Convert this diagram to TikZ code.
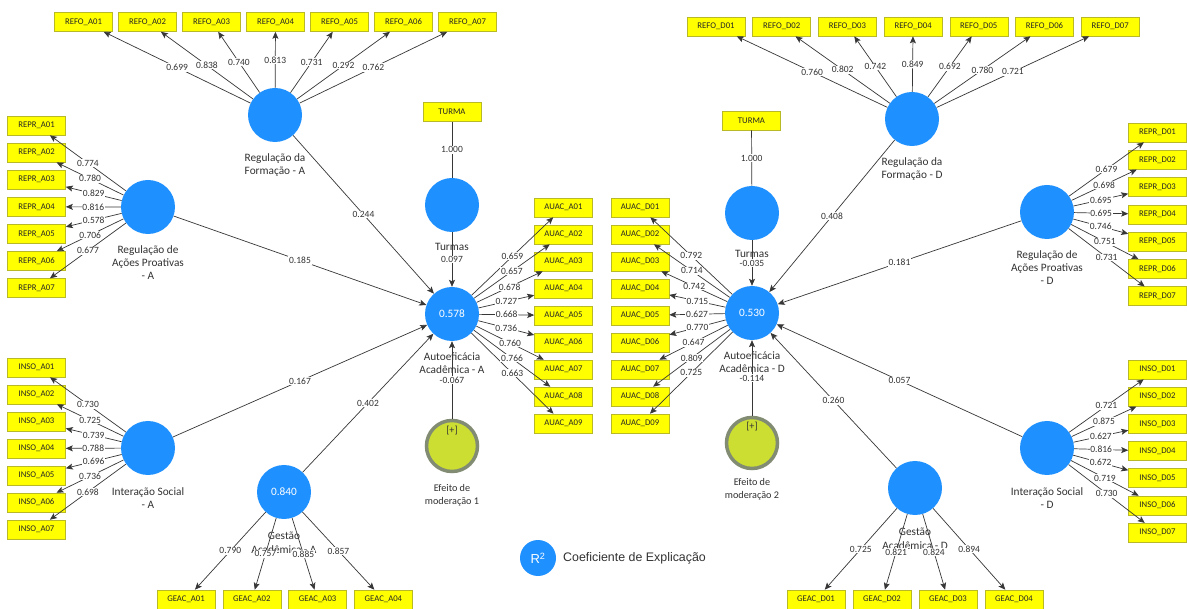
\documentclass[tikz,border=0pt]{standalone}
\usepackage{fontspec}
\setmainfont{Carlito}
\newfontfamily\legendfont{Liberation Sans}
\usetikzlibrary{arrows.meta}

\definecolor{lvblue}{RGB}{30,144,255}
\definecolor{indfill}{RGB}{255,255,0}
\definecolor{indborder}{RGB}{185,185,40}
\definecolor{modfill}{RGB}{205,222,50}
\definecolor{modring}{RGB}{130,140,115}
\definecolor{edgecol}{RGB}{55,55,55}
\definecolor{txtcol}{RGB}{50,50,50}

\begin{document}
\begin{tikzpicture}[x=1pt,y=-1pt,
  ind/.style={draw=indborder, fill=indfill, line width=0.6pt, minimum width=58pt,
    minimum height=19pt, inner sep=0pt, text=black!85, font=\fontsize{8.7}{10}\selectfont},
  lv/.style={circle, fill=lvblue, minimum size=54pt, inner sep=0pt, text=white,
    font=\fontsize{11.3}{13}\selectfont},
  modlv/.style={circle, fill=modfill, draw=modring, line width=3.5pt, minimum size=51pt, inner sep=0pt},
  lbl/.style={align=center, text=txtcol, inner sep=0pt, font=\fontsize{11.3}{13.2}\selectfont},
  modlbl/.style={align=center, text=txtcol, inner sep=0pt, font=\fontsize{10.2}{12.5}\selectfont},
  coef/.style={fill=white, inner sep=0.8pt, text=txtcol, font=\fontsize{9.5}{10}\selectfont},
  edge/.style={draw=edgecol, line width=0.7pt},
  arr/.style={edge, -{Stealth[length=7pt,width=6pt,inset=1.5pt]}},
]
\fill[white] (0,0) rectangle (1187,609);
\useasboundingbox (0,0) rectangle (1187,609);

% ---------- latent variables ----------
\node[lv] (REFOA) at (275,115) {};
\node[lv] (REPRA) at (148,207) {};
\node[lv] (INSOA) at (148,448) {};
\node[lv] (GEACA) at (284,492) {0.840};
\node[lv] (AUTA)  at (452,314) {0.578};
\node[lv] (TURA)  at (452,205) {};
\node[modlv] (MODA) at (452,446) {};
\node[ind] (turmaA) at (452,112) {TURMA};

\node[lv] (REFOD) at (912,119) {};
\node[lv] (REPRD) at (1047,212) {};
\node[lv] (INSOD) at (1047,448) {};
\node[lv] (GEACD) at (915,488) {};
\node[lv] (AUTD)  at (752,313) {0.530};
\node[lv] (TURD)  at (752,213) {};
\node[modlv] (MODD) at (752,443) {};
\node[ind] (turmaD) at (751.5,120.5) {TURMA};

% ---------- indicators ----------
\foreach \i in {1,...,7} {
  \node[ind] (rfa\i) at ({83.5+64*(\i-1)},22) {REFO\_A0\i};
  \node[ind] (rpa\i) at (36.5,{125.5+27.1*(\i-1)}) {REPR\_A0\i};
  \node[ind] (isa\i) at (36.5,{367.5+27*(\i-1)}) {INSO\_A0\i};
  \node[ind] (rfd\i) at ({716+65.7*(\i-1)},26.5) {REFO\_D0\i};
  \node[ind] (rpd\i) at (1157.5,{132.5+27.3*(\i-1)}) {REPR\_D0\i};
  \node[ind] (isd\i) at (1157.5,{369.5+27.2*(\i-1)}) {INSO\_D0\i};
}
\foreach \i in {1,...,9} {
  \node[ind] (aua\i) at (563.5,{207.5+27*(\i-1)}) {AUAC\_A0\i};
  \node[ind] (aud\i) at (640,{207.5+27*(\i-1)}) {AUAC\_D0\i};
}
\foreach \i in {1,...,4} {
  \node[ind] (gea\i) at ({186+65.8*(\i-1)},599.5) {GEAC\_A0\i};
  \node[ind] (ged\i) at ({816+66*(\i-1)},599.5) {GEAC\_D0\i};
}

% ---------- construct captions ----------
\node[lbl, anchor=north] (REFOAlab) at ([yshift=-11pt]REFOA.south) {Regulação da\\Formação - A};
\node[lbl, anchor=north] (REPRAlab) at ([yshift=-11pt]REPRA.south) {Regulação de\\Ações Proativas\\- A};
\node[lbl, anchor=north] (INSOAlab) at ([yshift=-12pt]INSOA.south) {Interação Social\\- A};
\node[lbl, anchor=north] (GEACAlab) at ([yshift=-13pt]GEACA.south) {Gestão\\Acadêmica - A};
\node[lbl, anchor=north] (AUTAlab)  at ([yshift=-11pt]AUTA.south) {Autoeficácia\\Acadêmica - A};
\node[lbl, anchor=north] (TURAlab)  at ([yshift=-11pt]TURA.south) {Turmas};
\node[modlbl, anchor=north] (MODAlab) at ([yshift=-11pt]MODA.south) {Efeito de\\moderação 1};
\node[modlbl] (MODAplus) at ([yshift=15pt]MODA.center) {[+]};

\node[lbl, anchor=north] (REFODlab) at ([yshift=-11pt]REFOD.south) {Regulação da\\Formação - D};
\node[lbl, anchor=north] (REPRDlab) at ([yshift=-11pt]REPRD.south) {Regulação de\\Ações Proativas\\- D};
\node[lbl, anchor=north] (INSODlab) at ([yshift=-12pt]INSOD.south) {Interação Social\\- D};
\node[lbl, anchor=north] (GEACDlab) at ([yshift=-13pt]GEACD.south) {Gestão\\Acadêmica - D};
\node[lbl, anchor=north] (AUTDlab)  at ([yshift=-11pt]AUTD.south) {Autoeficácia\\Acadêmica - D};
\node[lbl, anchor=north] (TURDlab)  at ([yshift=-10pt]TURD.south) {Turmas};
\node[modlbl, anchor=north] (MODDlab) at ([yshift=-8pt]MODD.south) {Efeito de\\moderação 2};
\node[modlbl] (MODDplus) at ([yshift=16pt]MODD.center) {[+]};

% ---------- outer model lines ----------
\foreach \i in {1,...,7} {
  \draw[arr] (REFOA) -- (rfa\i);
  \draw[arr] (REPRA) -- (rpa\i);
  \draw[arr] (INSOA) -- (isa\i);
  \draw[arr] (REFOD) -- (rfd\i);
  \draw[arr] (REPRD) -- (rpd\i);
  \draw[arr] (INSOD) -- (isd\i);
}
\foreach \i in {1,...,9} {
  \draw[arr] (AUTA) -- (aua\i);
  \draw[arr] (AUTD) -- (aud\i);
}
\foreach \i in {1,...,4} {
  \draw[arr] (GEACA) -- (gea\i);
  \draw[arr] (GEACD) -- (ged\i);
}
\draw[edge] (turmaA) -- (TURA);
\draw[edge] (turmaD) -- (TURD);

% ---------- inner model lines ----------
\foreach \s in {REFOA,REPRA,INSOA,GEACA,TURA,MODA} \draw[arr] (\s) -- (AUTA);
\foreach \s in {REFOD,REPRD,INSOD,GEACD,TURD,MODD} \draw[arr] (\s) -- (AUTD);

% ---------- loadings ----------
\foreach \v [count=\i] in {0.699,0.838,0.740,0.813,0.731,0.292,0.762}
  \path (REFOA) -- node[coef]{\v} (rfa\i);
\foreach \v [count=\i] in {0.774,0.780,0.829,0.816,0.578,0.706,0.677}
  \path (REPRA) -- node[coef]{\v} (rpa\i);
\foreach \v [count=\i] in {0.730,0.725,0.739,0.788,0.696,0.736,0.698}
  \path (INSOA) -- node[coef]{\v} (isa\i);
\foreach \v [count=\i] in {0.790,0.757,0.885,0.857}
  \path (GEACA) -- node[coef]{\v} (gea\i);
\foreach \v [count=\i] in {0.659,0.657,0.678,0.727,0.668,0.736,0.760,0.766,0.663}
  \path (AUTA) -- node[coef]{\v} (aua\i);

\foreach \v [count=\i] in {0.760,0.802,0.742,0.849,0.692,0.780,0.721}
  \path (REFOD) -- node[coef]{\v} (rfd\i);
\foreach \v [count=\i] in {0.679,0.698,0.695,0.695,0.746,0.751,0.731}
  \path (REPRD) -- node[coef]{\v} (rpd\i);
\foreach \v [count=\i] in {0.721,0.875,0.627,0.816,0.672,0.719,0.730}
  \path (INSOD) -- node[coef]{\v} (isd\i);
\foreach \v [count=\i] in {0.725,0.821,0.824,0.894}
  \path (GEACD) -- node[coef]{\v} (ged\i);
\foreach \v [count=\i] in {0.792,0.714,0.742,0.715,0.627,0.770,0.647,0.809,0.725}
  \path (AUTD) -- node[coef]{\v} (aud\i);

% ---------- path coefficients ----------
\path (turmaA) -- node[coef]{1.000} (TURA);
\path (turmaD) -- node[coef]{1.000} (TURD);
\foreach \s/\v in {REFOA/0.244,REPRA/0.185,INSOA/0.167,GEACA/0.402,TURA/0.097,MODA/-0.067}
  \path (\s) -- node[coef]{\v} (AUTA);
\foreach \s/\v in {REFOD/0.408,REPRD/0.181,INSOD/0.057,GEACD/0.260,TURD/-0.035,MODD/-0.114}
  \path (\s) -- node[coef]{\v} (AUTD);

% ---------- legend ----------
\node[circle, fill=lvblue, minimum size=36pt, inner sep=0pt, text=white,
  font=\legendfont\fontsize{13}{13}\selectfont] (legR) at (538,558) {R\textsuperscript{2}};
\node[anchor=west, text=txtcol, inner sep=0pt, font=\legendfont\fontsize{12.4}{14}\selectfont]
  (legtxt) at (563,558) {Coeficiente de Explicação};
\end{tikzpicture}
\end{document}
